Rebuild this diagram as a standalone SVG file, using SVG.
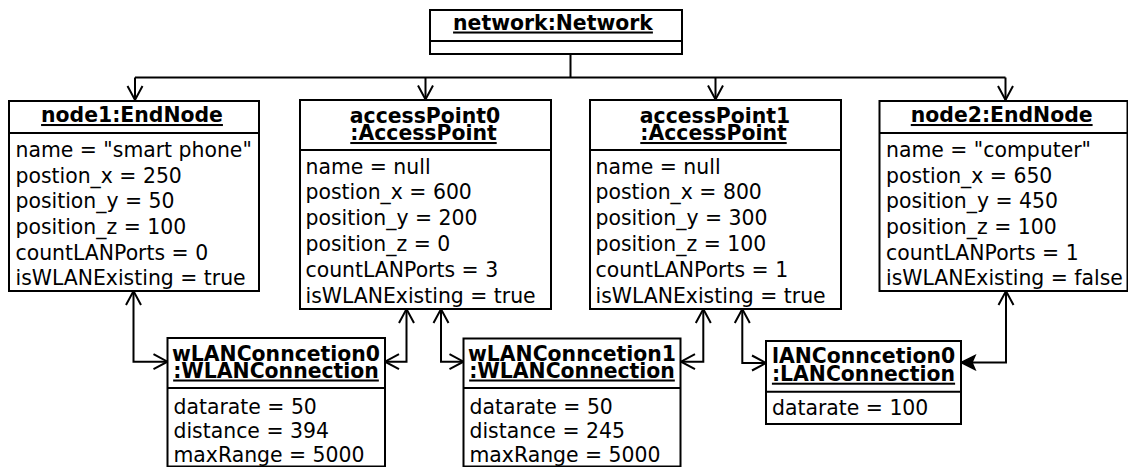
<svg xmlns="http://www.w3.org/2000/svg" width="1128" height="467" viewBox="0 0 1128 467">
<style>
  .box { fill: #fff; stroke: #000; stroke-width: 2; }
  .div { stroke: #000; stroke-width: 2; }
  .t { font-family: "DejaVu Sans", "Liberation Sans", sans-serif; font-size: 20.4px; fill: #000; }
  .b { font-weight: bold; text-anchor: middle; }
  .u { text-decoration: underline; }
  .c { fill: none; stroke: #000; stroke-width: 2; }
</style>
<defs>
  <marker id="open" markerUnits="userSpaceOnUse" markerWidth="22" markerHeight="22" viewBox="-18 -11 22 22" refX="0" refY="0" orient="auto-start-reverse">
    <path d="M-14,-7.5 L0,0 L-14,7.5" fill="none" stroke="#000" stroke-width="2"/>
  </marker>
  <marker id="filled" markerUnits="userSpaceOnUse" markerWidth="22" markerHeight="22" viewBox="-18 -11 22 22" refX="0" refY="0" orient="auto">
    <path d="M-14,-7 L0,0 L-14,7 L-11,0 Z" fill="#000" stroke="#000" stroke-width="1.5" stroke-linejoin="miter"/>
  </marker>
</defs>

<g id="connectors">
  <path class="c" d="M570.5,54 V77.5 M135,77.5 H1005.5"/>
  <path class="c" d="M135,77.5 V100" marker-end="url(#open)"/>
  <path class="c" d="M425.5,77.5 V99.5" marker-end="url(#open)"/>
  <path class="c" d="M715.5,77.5 V99.5" marker-end="url(#open)"/>
  <path class="c" d="M1005.5,77.5 V100" marker-end="url(#open)"/>
  <path class="c" d="M133.5,291 V361.7 H167.5" marker-start="url(#open)" marker-end="url(#open)"/>
  <path class="c" d="M406.5,309 V361.7 H385" marker-start="url(#open)" marker-end="url(#open)"/>
  <path class="c" d="M441,309 V361.7 H463.5" marker-start="url(#open)" marker-end="url(#open)"/>
  <path class="c" d="M703.3,309 V361.7 H681" marker-start="url(#open)" marker-end="url(#open)"/>
  <path class="c" d="M742.3,309 V363 H766" marker-start="url(#open)" marker-end="url(#open)"/>
  <path class="c" d="M1006,291 V362.5 H961" marker-start="url(#open)" marker-end="url(#filled)"/>
</g>

<g id="network">
  <rect class="box" x="430" y="10" width="252" height="44"/>
  <line class="div" x1="430" y1="41" x2="682" y2="41"/>
  <text class="t b u" x="553" y="29.5">network:Network</text>
</g>

<g id="node1">
  <rect class="box" x="9" y="101" width="250" height="190"/>
  <line class="div" x1="9" y1="133" x2="259" y2="133"/>
  <text class="t b u" x="132" y="122">node1:EndNode</text>
  <text class="t" x="15.5" y="157">name = "smart phone"</text>
  <text class="t" x="15.5" y="182.7">postion_x = 250</text>
  <text class="t" x="15.5" y="208.3">position_y = 50</text>
  <text class="t" x="15.5" y="234">position_z = 100</text>
  <text class="t" x="15.5" y="259.6">countLANPorts = 0</text>
  <text class="t" x="15.5" y="285.3">isWLANExisting = true</text>
</g>

<g id="accessPoint0">
  <rect class="box" x="300" y="100" width="251" height="209"/>
  <line class="div" x1="300" y1="150" x2="551" y2="150"/>
  <text class="t b" x="425" y="122.7">accessPoint0</text>
  <text class="t b u" x="423.5" y="140">:AccessPoint</text>
  <text class="t" x="305.5" y="173.5">name = null</text>
  <text class="t" x="305.5" y="199.3">postion_x = 600</text>
  <text class="t" x="305.5" y="225.1">position_y = 200</text>
  <text class="t" x="305.5" y="250.9">position_z = 0</text>
  <text class="t" x="305.5" y="276.7">countLANPorts = 3</text>
  <text class="t" x="305.5" y="302.5">isWLANExisting = true</text>
</g>

<g id="accessPoint1">
  <rect class="box" x="590" y="100" width="251" height="209"/>
  <line class="div" x1="590" y1="150" x2="841" y2="150"/>
  <text class="t b" x="715" y="122.7">accessPoint1</text>
  <text class="t b u" x="713.5" y="140">:AccessPoint</text>
  <text class="t" x="595.5" y="173.5">name = null</text>
  <text class="t" x="595.5" y="199.3">postion_x = 800</text>
  <text class="t" x="595.5" y="225.1">position_y = 300</text>
  <text class="t" x="595.5" y="250.9">position_z = 100</text>
  <text class="t" x="595.5" y="276.7">countLANPorts = 1</text>
  <text class="t" x="595.5" y="302.5">isWLANExisting = true</text>
</g>

<g id="node2">
  <rect class="box" x="879.5" y="101" width="248" height="190"/>
  <line class="div" x1="879.5" y1="133" x2="1127.5" y2="133"/>
  <text class="t b u" x="1001.7" y="122">node2:EndNode</text>
  <text class="t" x="886" y="157">name = "computer"</text>
  <text class="t" x="886" y="182.7">postion_x = 650</text>
  <text class="t" x="886" y="208.3">position_y = 450</text>
  <text class="t" x="886" y="234">position_z = 100</text>
  <text class="t" x="886" y="259.6">countLANPorts = 1</text>
  <text class="t" x="886" y="285.3">isWLANExisting = false</text>
</g>

<g id="wLANConncetion0">
  <rect class="box" x="167.5" y="338" width="217.5" height="128.5"/>
  <line class="div" x1="167.5" y1="388" x2="385" y2="388"/>
  <text class="t b" x="276" y="361">wLANConncetion0</text>
  <text class="t b u" x="276" y="377.5">:WLANConnection</text>
  <text class="t" x="173.5" y="413.5">datarate = 50</text>
  <text class="t" x="173.5" y="437.7">distance = 394</text>
  <text class="t" x="173.5" y="461.9">maxRange = 5000</text>
</g>

<g id="wLANConncetion1">
  <rect class="box" x="463.5" y="338.5" width="217" height="128"/>
  <line class="div" x1="463.5" y1="388" x2="680.5" y2="388"/>
  <text class="t b" x="572" y="361">wLANConncetion1</text>
  <text class="t b u" x="572" y="377.5">:WLANConnection</text>
  <text class="t" x="469.5" y="413.5">datarate = 50</text>
  <text class="t" x="469.5" y="437.7">distance = 245</text>
  <text class="t" x="469.5" y="461.9">maxRange = 5000</text>
</g>

<g id="lANConncetion0">
  <rect class="box" x="766" y="341" width="195" height="83"/>
  <line class="div" x1="766" y1="391.7" x2="961" y2="391.7"/>
  <text class="t b" x="863.5" y="362.7">lANConncetion0</text>
  <text class="t b u" x="863.5" y="380.7">:LANConnection</text>
  <text class="t" x="772" y="415">datarate = 100</text>
</g>
</svg>
